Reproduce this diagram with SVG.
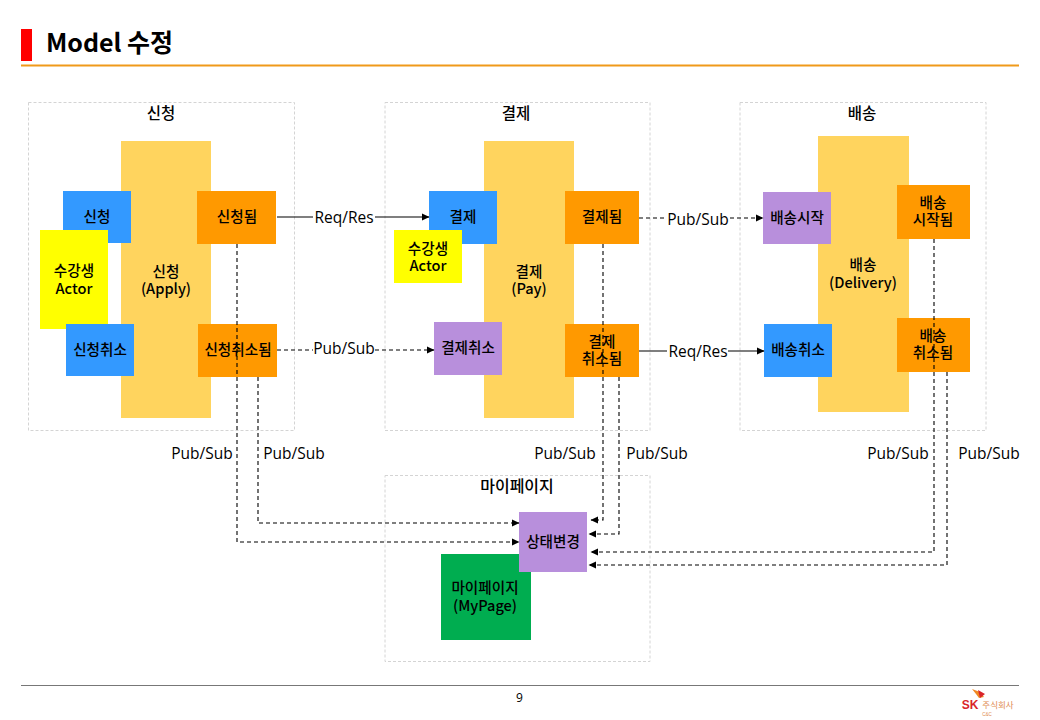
<svg xmlns="http://www.w3.org/2000/svg" width="1040" height="720" viewBox="0 0 1040 720">
<style>
text{font-family:"Open Sans","Noto Sans CJK KR","Noto Sans",sans-serif;fill:#000;text-anchor:middle}
.n text{font-family:"Noto Sans CJK KR",sans-serif;font-size:14.6px;font-weight:500}
.g{fill:#fff;stroke:#d4d4d4;stroke-width:1;stroke-dasharray:3 2}
.gt{font-family:"Noto Sans CJK KR",sans-serif;font-size:15.500px;font-weight:500}
.l{font-size:15.500px}
.s,.d{fill:none;stroke:#000;stroke-width:1.1}
.d{stroke-dasharray:4 3}
.y{fill:#ffd45e}.b{fill:#3399ff}.o{fill:#ff9900}.p{fill:#b88fdc}.a{fill:#ffff00}
</style>
<defs><marker id="ah" markerWidth="8" markerHeight="8" refX="7" refY="4" orient="auto" markerUnits="userSpaceOnUse"><path d="M0 0.5L7.5 4L0 7.5Z" fill="#000"/></marker></defs>
<rect width="1040" height="720" fill="#fff"/>
<g id="header">
<rect x="21" y="29" width="11" height="32" fill="#ff0000"/>
<text x="109.500" y="52" style="font-family:'Noto Sans CJK KR',sans-serif;font-size:25px;font-weight:700">Model 수정</text>
<rect x="21" y="64.500" width="998" height="2" fill="#f09a1a"/>
</g>
<g id="group-apply"><rect class="g" x="28.500" y="102.500" width="266" height="328"/><text class="gt" x="161" y="119">신청</text></g>
<g id="group-pay"><rect class="g" x="385" y="102.500" width="265" height="328"/><text class="gt" x="516" y="119">결제</text></g>
<g id="group-delivery"><rect class="g" x="740" y="102.500" width="246" height="328"/><text class="gt" x="862" y="119">배송</text></g>
<g id="group-mypage"><rect class="g" x="385" y="475.500" width="265" height="186"/><text class="gt" x="517" y="492" style="font-size:16px">마이페이지</text></g>
<g class="n">
<g id="agg-apply"><rect class="y" x="121" y="141" width="90" height="277"/><text x="166" y="277">신청<tspan x="166" dy="17">(Apply)</tspan></text></g>
<g id="agg-pay"><rect class="y" x="484" y="141" width="90" height="277"/><text x="529" y="277">결제<tspan x="529" dy="17">(Pay)</tspan></text></g>
<g id="agg-delivery"><rect class="y" x="818" y="136" width="91" height="276"/><text x="863" y="270">배송<tspan x="863" dy="18">(Delivery)</tspan></text></g>
<g id="cmd-apply"><rect class="b" x="63" y="191" width="68" height="52"/><text x="97" y="222">신청</text></g>
<g id="evt-applied"><rect class="o" x="197" y="191" width="79" height="53"/><text x="237" y="222">신청됨</text></g>
<g id="actor-student1"><rect class="a" x="40" y="230" width="68" height="99"/><text x="74" y="276">수강생<tspan x="74" dy="18">Actor</tspan></text></g>
<g id="cmd-cancel"><rect class="b" x="66" y="324" width="68" height="52"/><text x="100" y="355">신청취소</text></g>
<g id="evt-cancelled"><rect class="o" x="198" y="324" width="79" height="53"/><text x="238" y="355">신청취소됨</text></g>
<g id="cmd-pay"><rect class="b" x="429" y="191" width="68" height="53"/><text x="463" y="222">결제</text></g>
<g id="evt-paid"><rect class="o" x="565" y="191" width="74" height="53"/><text x="602" y="222">결제됨</text></g>
<g id="actor-student2"><rect class="a" x="394" y="230" width="68" height="53"/><text x="428" y="254">수강생<tspan x="428" dy="17">Actor</tspan></text></g>
<g id="pol-paycancel"><rect class="p" x="434" y="322" width="68" height="53"/><text x="468" y="353">결제취소</text></g>
<g id="evt-paycancelled"><rect class="o" x="565" y="324" width="74" height="53"/></g>
<g id="pol-delivery"><rect class="p" x="763" y="192" width="68" height="52"/><text x="797" y="223">배송시작</text></g>
<g id="evt-delivered"><rect class="o" x="897" y="185" width="73" height="54"/><text x="933" y="208">배송<tspan x="933" dy="17">시작됨</tspan></text></g>
<g id="cmd-delcancel"><rect class="b" x="764" y="324" width="68" height="53"/><text x="798" y="355">배송취소</text></g>
<g id="evt-delcancelled"><rect class="o" x="897" y="318" width="73" height="54"/><text x="933" y="341">배송<tspan x="933" dy="17">취소됨</tspan></text></g>
<g id="agg-mypage"><rect x="441" y="554" width="90" height="86" fill="#00ad50"/><text x="485" y="593">마이페이지<tspan x="485" dy="18">(MyPage)</tspan></text></g>
<g id="pol-status"><rect class="p" x="519" y="512" width="68" height="60"/><text x="553" y="547">상태변경</text></g>
</g>
<g id="connectors">
<path class="s" d="M277 217H313M375 217H429" marker-end="url(#ah)"/>
<path class="d" d="M277 350H313M375 350H434" marker-end="url(#ah)"/>
<path class="d" d="M639 218H667M730 218H763" marker-end="url(#ah)"/>
<path class="s" d="M639 351H667M728 351H764" marker-end="url(#ah)"/>
<path class="d" d="M237 244V542H519" marker-end="url(#ah)"/>
<path class="d" d="M258 377V523H519" marker-end="url(#ah)"/>
<path class="d" d="M603 244V520H591" marker-end="url(#ah)"/>
<path class="d" d="M619 377V534H589" marker-end="url(#ah)"/>
<path class="d" d="M934 239V552H591" marker-end="url(#ah)"/>
<path class="d" d="M947 372V565H589" marker-end="url(#ah)"/>
</g>
<g class="n"><text x="602" y="347">결제<tspan x="602" dy="17">취소됨</tspan></text></g>
<g id="labels">
<text class="l" x="344" y="223">Req/Res</text>
<text class="l" x="344" y="354">Pub/Sub</text>
<text class="l" x="698" y="225">Pub/Sub</text>
<text class="l" x="698" y="357">Req/Res</text>
<text class="l" x="202" y="459">Pub/Sub</text>
<text class="l" x="294" y="459">Pub/Sub</text>
<text class="l" x="565" y="459">Pub/Sub</text>
<text class="l" x="657" y="459">Pub/Sub</text>
<text class="l" x="898" y="459">Pub/Sub</text>
<text class="l" x="989" y="459">Pub/Sub</text>
</g>
<g id="footer">
<rect x="21" y="685" width="998" height="1" fill="#777"/>
<text x="519.500" y="702" style="font-size:12px">9</text>
<path d="M972 689L980 692L984 697L979 698L976 694Z" fill="#f08a24"/>
<path d="M978 690L985 694L980 698Z" fill="#d9252a"/>
<text x="970" y="709" style="font-size:12px;font-weight:800;fill:#d9252a;font-family:'Liberation Sans',sans-serif">SK</text>
<text x="998" y="708" style="font-size:8.500px;fill:#e08a50;font-family:'Noto Sans CJK KR',sans-serif">주식회사</text>
<text x="987" y="716" style="font-size:4.500px;fill:#e08a50;font-family:'Liberation Sans',sans-serif">C&amp;C</text>
</g>
</svg>
